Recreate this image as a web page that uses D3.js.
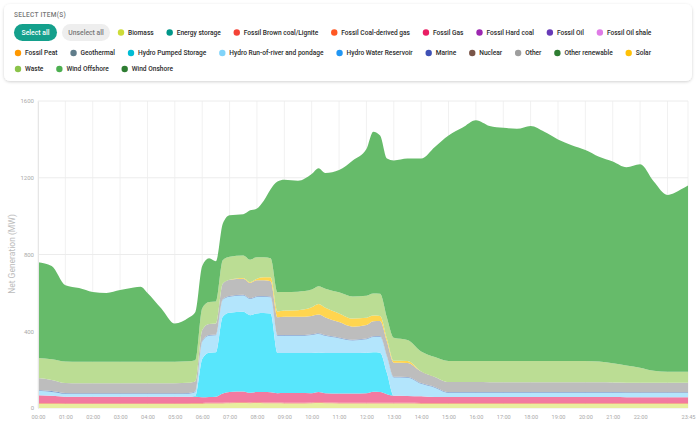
<!DOCTYPE html>
<html>
<head>
<meta charset="utf-8">
<script src="https://cdn.jsdelivr.net/npm/d3@7"></script>
<style>
body { margin: 0; background: #fff; }
text { font-family: Roboto, "Noto Sans", sans-serif; }
</style>
</head>
<body>
<div id="chart"></div>
<script>
// legend categories and their dot colours
var categories = ["Biomass", "Energy storage", "Fossil Brown coal/Lignite", "Fossil Coal-derived gas",
    "Fossil Gas", "Fossil Hard coal", "Fossil Oil", "Fossil Oil shale", "Fossil Peat", "Geothermal",
    "Hydro Pumped Storage", "Hydro Run-of-river and pondage", "Hydro Water Reservoir", "Marine",
    "Nuclear", "Other", "Other renewable", "Solar", "Waste", "Wind Offshore", "Wind Onshore"];
var dotColors = ["#cddc39", "#009688", "#f44336", "#ff5722", "#e91e63", "#9c27b0", "#673ab7", "#df7be6",
    "#ff9800", "#607d8b", "#00bcd4", "#81d4fa", "#2196f3", "#3f51b5", "#795548", "#9e9e9e",
    "#2e7d32", "#ffc107", "#8bc34a", "#4caf50", "#2e7d32"];

// time stamps of the readings
var times = ["00:00","00:30","01:00","01:30","02:00","02:30","03:00","03:30","03:45","04:00",
    "04:30","05:00","05:30","05:45","06:00","06:15","06:30","06:45","07:00","07:30",
    "07:45","08:00","08:15","08:30","08:45","09:00","09:30","10:00","10:15","10:30",
    "11:00","11:30","12:00","12:15","12:30","12:45","13:00","13:30","14:00","14:30",
    "15:00","15:30","16:00","16:30","17:00","17:30","18:00","18:30","19:00","19:30",
    "20:00","20:30","21:00","21:30","22:00","22:30","23:00","23:15","23:30","23:45"];

// net generation (MW) per production type
var biomass = [22,22,21,21,21,21,21,21,21,21, 21,21,21,22,22,23,23,24,25,26,
    25,26,25,25,25,24,24,25,26,25, 24,23,23,24,24,23,23,23,22,22,
    22,22,22,22,22,22,22,22,22,22, 22,22,22,22,22,22,22,22,22,22];
var brownCoal = [4,4,4,4,4,4,4,4,4,4, 4,4,4,4,4,4,4,4,4,4,
    4,4,4,4,4,4,4,4,4,4, 4,4,4,4,4,4,4,4,4,4,
    4,4,4,4,4,4,4,4,4,4, 4,4,4,4,4,4,4,4,4,4];
var fossilGas = [40,38,34,33,33,33,33,33,33,33, 33,33,33,33,30,30,32,48,55,56,
    50,53,54,53,48,50,50,48,53,48, 47,48,50,57,55,45,37,36,35,31,
    31,31,31,31,31,31,31,31,31,31, 31,31,31,30,30,30,30,30,30,30];
var pumpedStorage = [0,0,0,0,0,0,0,0,0,0, 0,0,0,5,200,231,231,400,412,415,
    405,410,412,410,210,209,209,209,206,209, 211,211,211,205,205,110,0,0,0,0,
    0,0,0,0,0,0,0,0,0,0, 0,0,0,0,0,0,0,0,0,0];
var runOfRiver = [24,20,15,15,15,15,15,15,15,15, 15,15,16,19,90,89,89,88,84,85,
    84,85,85,85,90,89,89,95,97,90, 78,66,70,80,83,85,95,95,65,49,
    22,22,22,22,22,22,22,22,22,22, 22,22,22,22,22,22,22,22,22,22];
var waterReservoir = [4,4,4,4,4,4,4,4,4,4, 4,4,4,4,4,4,4,4,4,4,
    4,4,4,4,4,4,4,4,4,4, 4,4,4,4,4,4,4,4,4,4,
    4,4,4,4,4,4,4,4,4,4, 4,4,4,4,4,4,4,4,4,4];
var other = [62,58,52,52,52,52,52,52,52,52, 52,52,53,52,57,57,57,80,84,84,
    80,84,82,80,92,95,95,95,97,92, 80,68,70,78,78,75,73,73,60,52,
    52,52,52,51,51,51,51,51,51,51, 51,51,50,50,50,50,50,50,50,50];
var solar = [0,0,0,0,0,0,0,0,0,0, 0,0,0,0,0,0,0,0,0,3,
    3,8,15,20,30,33,35,45,55,50, 45,42,38,30,27,15,10,10,0,0,
    0,0,0,0,0,0,0,0,0,0, 0,0,0,0,0,0,0,0,0,0];
var waste = [104,108,112,112,112,112,112,112,112,112, 112,112,112,110,113,115,115,122,120,118,
    118,112,105,100,100,96,96,92,93,100, 110,115,115,115,115,110,120,110,105,104,
    110,110,110,111,111,111,111,111,111,111, 111,108,100,90,78,62,57,57,57,57];
var windOffshore = [500,486,398,384,364,359,374,387,391,359, 279,199,227,251,220,227,210,190,217,215,
    257,254,294,359,577,586,579,603,615,603, 637,709,765,843,825,829,924,945,1005,1094,
    1175,1215,1255,1225,1215,1210,1225,1195,1155,1125, 1100,1068,1052,1033,1060,986,921,931,951,971];

var yTicks = [0, 400, 800, 1200, 1600];
var xTickLabels = ["00:00","01:00","02:00","03:00","04:00","05:00","06:00","07:00","08:00","09:00",
    "10:00","11:00","12:00","13:00","14:00","15:00","16:00","17:00","18:00","19:00",
    "20:00","21:00","22:00","23:45"];

// stacked series (bottom to top) with their area fills
var stackKeys = ["Biomass", "Fossil Brown coal/Lignite", "Fossil Gas", "Hydro Pumped Storage",
    "Hydro Run-of-river and pondage", "Hydro Water Reservoir", "Other", "Solar", "Waste", "Wind Offshore"];
var stackValues = [biomass, brownCoal, fossilGas, pumpedStorage, runOfRiver, waterReservoir,
    other, solar, waste, windOffshore];
var areaFill = {
    "Biomass": "#e8ee9e",
    "Fossil Brown coal/Lignite": "#f29072",
    "Fossil Gas": "#f27aa0",
    "Hydro Pumped Storage": "#58e6fc",
    "Hydro Run-of-river and pondage": "#b3e5fc",
    "Hydro Water Reservoir": "#7e9fd0",
    "Other": "#bdbdbd",
    "Solar": "#ffd54f",
    "Waste": "#bbdd94",
    "Wind Offshore": "#66bb6a"
};

var w = 700, h = 426,
    svg = d3.select("#chart").append("svg").attr("width", w).attr("height", h);

function toMin(s) { var p = s.split(":"); return +p[0] * 60 + +p[1]; }

var x = d3.scaleLinear().domain([0, toMin("23:45")]).range([38, 688]),
    y = d3.scaleLinear().domain([0, 1600]).range([408, 101]);

// ---- selection card ----
var defs = svg.append("defs");
var f = defs.append("filter").attr("id", "shadow").attr("x", "-5%").attr("y", "-20%")
    .attr("width", "110%").attr("height", "140%");
f.append("feDropShadow").attr("dx", 0).attr("dy", 1).attr("stdDeviation", 1.5)
    .attr("flood-color", "#000").attr("flood-opacity", 0.18);

svg.append("rect")
    .attr("x", 4).attr("y", 4).attr("width", 688).attr("height", 77).attr("rx", 6)
    .attr("fill", "#fff").attr("filter", "url(#shadow)");

svg.append("text")
    .attr("x", 14).attr("y", 17)
    .attr("font-size", "6.5px").attr("fill", "#777").attr("font-weight", 500)
    .attr("letter-spacing", "0.3px")
    .text("SELECT ITEM(S)");

function button(x0, width, label, bg, fg) {
    svg.append("rect").attr("x", x0).attr("y", 24).attr("width", width).attr("height", 17)
        .attr("rx", 8.5).attr("fill", bg);
    svg.append("text").attr("x", x0 + width / 2).attr("y", 32.5).attr("dy", "0.35em")
        .attr("text-anchor", "middle").attr("font-size", "6.8px").attr("font-weight", 500)
        .attr("fill", fg).text(label);
}
button(14, 43, "Select all", "#14a08c", "#fff");
button(62, 48, "Unselect all", "#eeeeee", "#777");

// legend items flow in rows
var rowsY = [32.5, 53, 69], row = 0, cx = 121;
categories.forEach(function(name, i) {
    var g = svg.append("g");
    var t = g.append("text").attr("font-size", "6.6px").attr("font-weight", 500)
        .attr("fill", "#2a2a2a").attr("dy", "0.35em").text(name);
    var tw = t.node().getComputedTextLength();
    if (cx + 7 + tw > 688) { row++; cx = 18; }
    g.append("circle").attr("cx", cx).attr("cy", rowsY[row]).attr("r", 3.2).attr("fill", dotColors[i]);
    t.attr("x", cx + 7).attr("y", rowsY[row]);
    cx = cx + 7 + tw + 16;
});

// ---- grid ----
var xTickMins = xTickLabels.map(toMin);
var gridX = d3.range(0, 24).map(function(d) { return d * 60; }).concat([toMin("23:45")]);

svg.append("g")
    .selectAll("line").data(gridX).enter().append("line")
    .attr("x1", function(d) { return x(d); }).attr("x2", function(d) { return x(d); })
    .attr("y1", y(1600)).attr("y2", y(0))
    .attr("stroke", "#f1f1f1").attr("stroke-width", 1);

svg.append("g")
    .selectAll("line").data(yTicks).enter().append("line")
    .attr("x1", x.range()[0]).attr("x2", x.range()[1])
    .attr("y1", function(d) { return y(d); }).attr("y2", function(d) { return y(d); })
    .attr("stroke", "#ececec").attr("stroke-width", 1);

// ---- stacked areas ----
var rows = times.map(function(t, i) {
    var r = { t: toMin(t) };
    stackKeys.forEach(function(k, j) { r[k] = stackValues[j][i]; });
    return r;
});
var series = d3.stack().keys(stackKeys)(rows);

var area = d3.area()
    .x(function(d) { return x(d.data.t); })
    .y0(function(d) { return y(d[0]); })
    .y1(function(d) { return y(d[1]); })
    .curve(d3.curveMonotoneX);

svg.append("g")
    .selectAll("path").data(series).enter().append("path")
    .attr("fill", function(d) { return areaFill[d.key]; })
    .attr("d", area);

// ---- axes ----
var yAxis = svg.append("g")
    .attr("transform", "translate(38,0)")
    .call(d3.axisLeft(y).tickValues(yTicks).tickSize(0).tickPadding(4).tickFormat(d3.format("d")));
yAxis.select(".domain").attr("stroke", "#e6e6e6");
yAxis.selectAll("text").attr("font-size", "6px").attr("fill", "#aaa")
    .attr("font-family", "Roboto, sans-serif");

var xAxis = svg.append("g")
    .attr("transform", "translate(0,408)")
    .call(d3.axisBottom(x).tickValues(xTickMins).tickSize(0).tickPadding(7)
        .tickFormat(function(d, i) { return xTickLabels[i]; }));
xAxis.select(".domain").remove();
xAxis.selectAll("text").attr("font-size", "5.6px").attr("fill", "#aaa")
    .attr("font-family", "Roboto, sans-serif");

svg.append("text")
    .attr("transform", "translate(12,254) rotate(-90)")
    .attr("text-anchor", "middle").attr("dy", "0.35em")
    .attr("font-size", "8.5px").attr("fill", "#bbb")
    .text("Net Generation (MW)");
</script>
</body>
</html>
